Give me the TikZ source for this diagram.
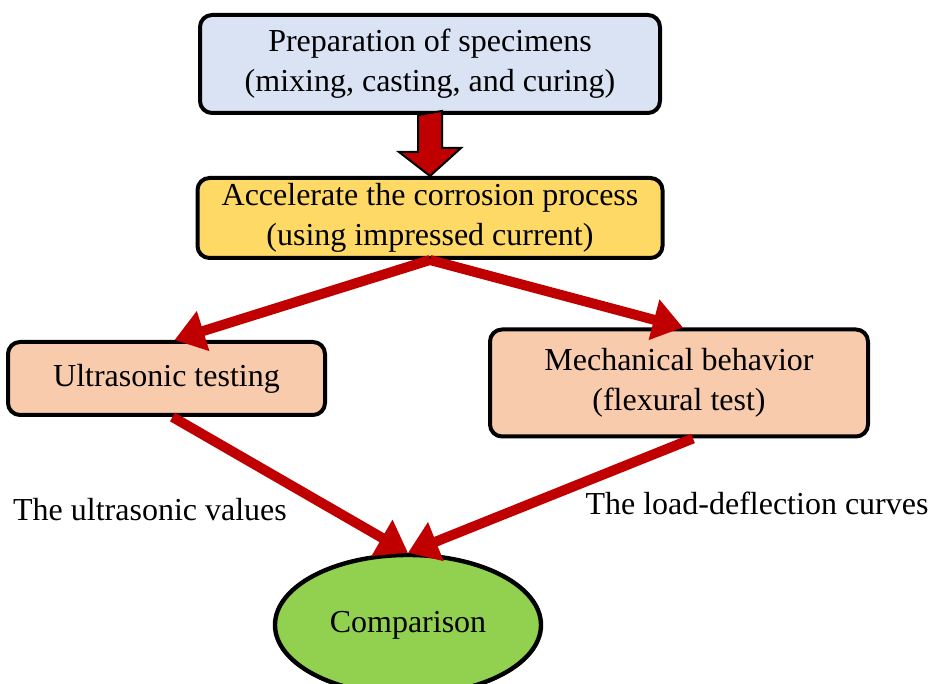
\documentclass[tikz,border=0pt]{standalone}
\usepackage{fontspec}
\setmainfont{Liberation Serif}
\usetikzlibrary{arrows.meta,positioning,shapes.geometric,calc}
\definecolor{prepfill}{RGB}{218,227,243}
\definecolor{accelfill}{RGB}{255,217,102}
\definecolor{testfill}{RGB}{248,203,173}
\definecolor{compfill}{RGB}{146,208,80}
\definecolor{flowred}{RGB}{192,0,0}

\begin{document}
\begin{tikzpicture}[
    x=0.5pt, y=-0.5pt,
    font=\fontsize{16}{20}\selectfont,
    box/.style={draw=black, line width=2pt, rounded corners=6pt,
      align=center, inner sep=2pt},
    arrow/.style={-{Triangle[length=15pt,width=20pt]}, draw=flowred, line width=5pt},
    blockarrow/.style={draw=black, fill=flowred, line width=1pt, line join=miter},
    tag/.style={inner sep=0pt}
  ]
    \useasboundingbox (0,0) rectangle (934,684);
    \node[box, fill=prepfill, minimum width=230pt, minimum height=49pt] (prep) at (430,64)
      {Preparation of specimens\\(mixing, casting, and curing)};
    \node[box, fill=accelfill, minimum width=232.5pt, minimum height=40pt] (accel) at (430,218)
      {Accelerate the corrosion process\\(using impressed current)};
    \node[box, fill=testfill, minimum width=158.5pt, minimum height=36.5pt] (ultra) at (166.5,378.5)
      {Ultrasonic testing};
    \node[box, fill=testfill, minimum width=189pt, minimum height=53.5pt] (mech) at (679,383)
      {Mechanical behavior\\(flexural test)};
    \node[ellipse, draw=black, line width=2.2pt, fill=compfill, minimum width=133pt,
      minimum height=70pt, inner sep=0pt] (comp) at (408,625) {Comparison};
    \node[tag] (uvals) at (150,510) {The ultrasonic values};
    \node[tag] (curves) at (757,503) {The load-deflection curves};
    \draw[blockarrow] ($(prep.south)+(-12,0)$) -- ++(0,37) -- ++(-19,0) -- (accel.north)
      -- ++(31,-28) -- ++(-19,0) -- ++(0,-37) -- cycle;
    \draw[arrow] (accel.south) -- ([xshift=4pt]ultra.north);
    \draw[arrow] (accel.south) -- ([xshift=2pt]mech.north);
    \draw[arrow] ([xshift=3pt]ultra.south) -- (comp.north);
    \draw[arrow] ([xshift=7pt]mech.south) -- (comp.north);
  \end{tikzpicture}
\end{document}
